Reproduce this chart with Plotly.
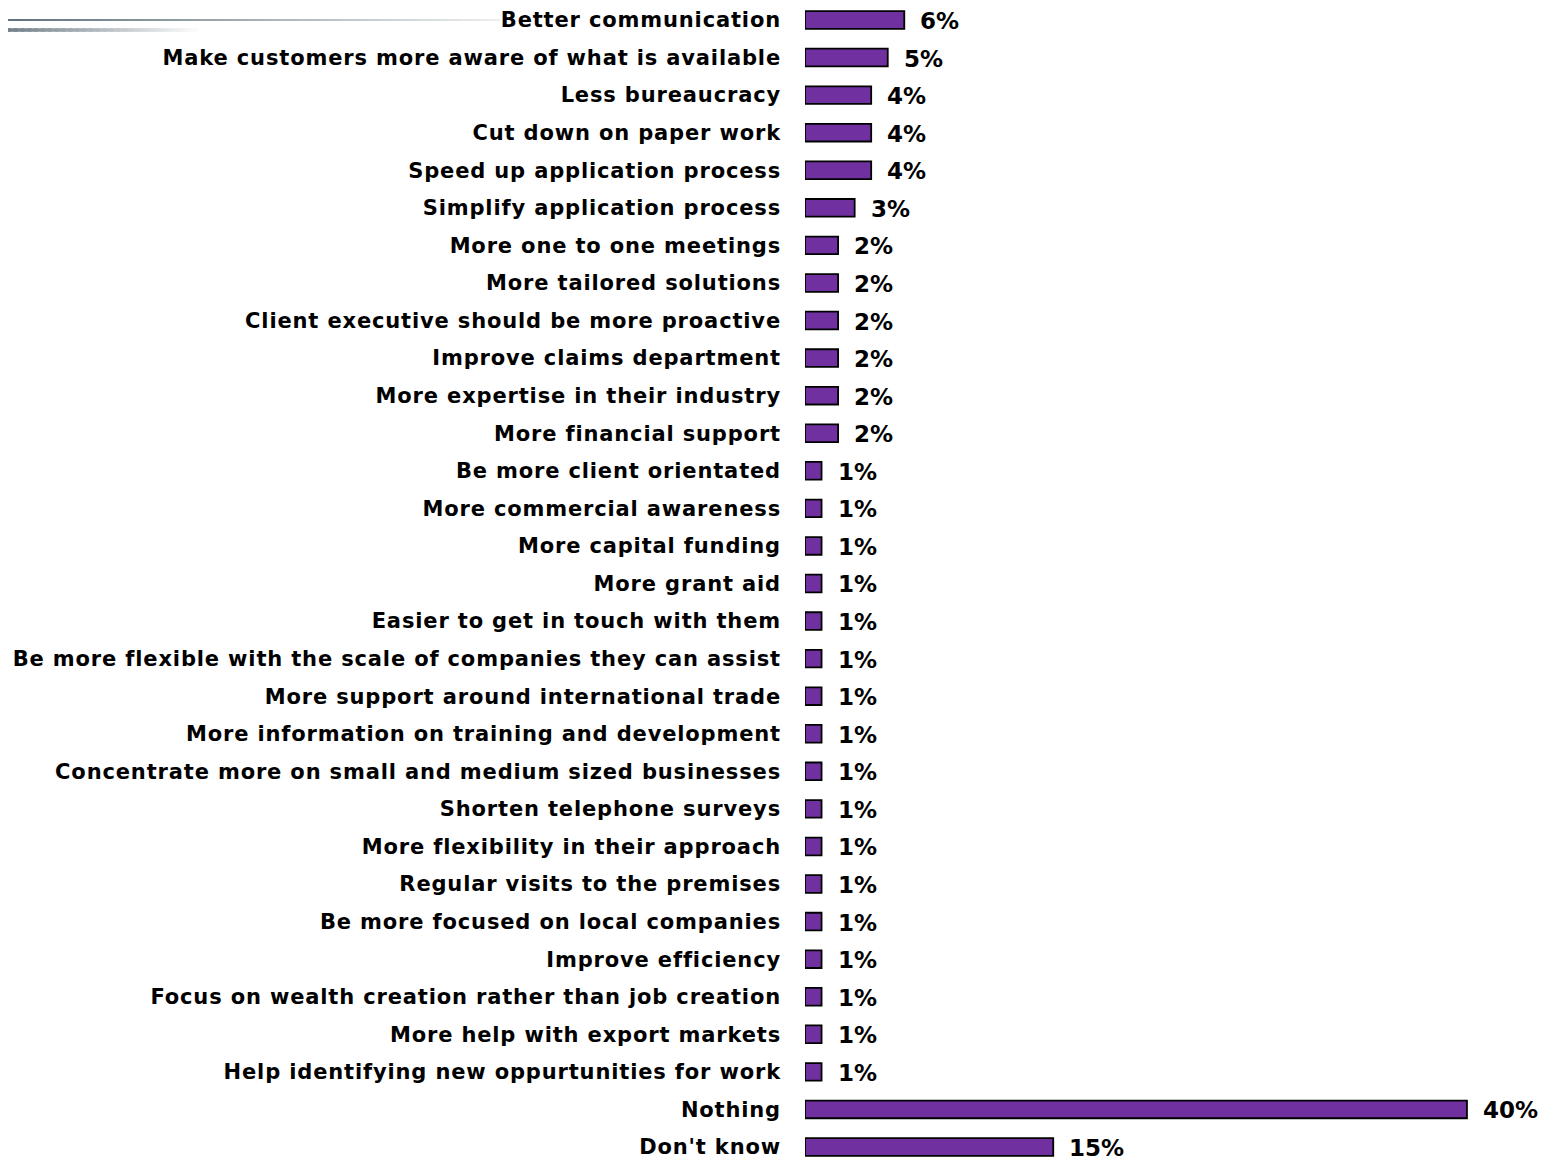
import plotly.graph_objects as go

categories = [
    "Better communication",
    "Make customers more aware of what is available",
    "Less bureaucracy",
    "Cut down on paper work",
    "Speed up application process",
    "Simplify application process",
    "More one to one meetings",
    "More tailored solutions",
    "Client executive should be more proactive",
    "Improve claims department",
    "More expertise in their industry",
    "More financial support",
    "Be more client orientated",
    "More commercial awareness",
    "More capital funding",
    "More grant aid",
    "Easier to get in touch with them",
    "Be more flexible with the scale of companies they can assist",
    "More support around international trade",
    "More information on training and development",
    "Concentrate more on small and medium sized businesses",
    "Shorten telephone surveys",
    "More flexibility in their approach",
    "Regular visits to the premises",
    "Be more focused on local companies",
    "Improve efficiency",
    "Focus on wealth creation rather than job creation",
    "More help with export markets",
    "Help identifying new oppurtunities for work",
    "Nothing",
    "Don't know",
]
values = [6, 5, 4, 4, 4, 3, 2, 2, 2, 2, 2, 2, 1, 1, 1, 1, 1, 1, 1, 1, 1, 1, 1, 1, 1, 1, 1, 1, 1, 40, 15]
value_labels = [f"{v}%" for v in values]

# bottom-to-top order for plotting
cats_plot = categories[::-1]
vals_plot = values[::-1]
labs_plot = value_labels[::-1]

FONT = "DejaVu Sans, Liberation Sans, Arial"

fig = go.Figure()
fig.add_trace(go.Bar(
    x=vals_plot, y=cats_plot, orientation="h",
    marker=dict(color="#7030A0", line=dict(color="#000000", width=1.8)),
    width=0.47,
    hoverinfo="skip",
))

for v, c, t in zip(vals_plot, cats_plot, labs_plot):
    fig.add_annotation(x=v, y=c, text=f"<b>{t}</b>", showarrow=False,
                       xanchor="left", yanchor="middle", xshift=14, yshift=-1,
                       font=dict(family=FONT, size=23, color="#000000"))

W = 1545.0
H = 1152.0
L = 797.0
pw = W - L


def px_x(p):
    return (p - L) / pw


def px_y(p):
    return 1 - p / H


# decorative gradient lines at top-left
def grad_line(x0, x1, y, width, n, start, end):
    for i in range(n):
        f = i / (n - 1)
        col = tuple(int(start[k] + (end[k] - start[k]) * f) for k in range(3))
        xa = x0 + (x1 - x0) * i / n
        xb = x0 + (x1 - x0) * (i + 1.6) / n
        fig.add_shape(type="line", xref="paper", yref="paper",
                      x0=xa, x1=min(xb, x1), y0=y, y1=y,
                      line=dict(color=f"rgb{col}", width=width), layer="below")


grad_line(px_x(-8), px_x(492), px_y(12), 2, 50, (95, 112, 122), (235, 238, 240))
grad_line(px_x(-8), px_x(197), px_y(22), 3.5, 30, (110, 125, 135), (255, 255, 255))

tick_text = [f'<span style="letter-spacing:0.85px">{c}</span>' for c in cats_plot]

fig.update_layout(
    width=int(W), height=int(H),
    margin=dict(l=int(L), r=0, t=0, b=0),
    plot_bgcolor="white", paper_bgcolor="white",
    showlegend=False,
    font=dict(family=FONT, color="#000000"),
)
fig.update_xaxes(range=[0, 45.2], visible=False, fixedrange=True)
fig.update_yaxes(range=[-0.346, 30.319], showgrid=False, showline=False, zeroline=False,
                 ticks="", ticklabelstandoff=23,
                 tickmode="array", tickvals=cats_plot, ticktext=tick_text,
                 tickfont=dict(family=FONT, size=21, color="#000000", weight="bold"),
                 categoryorder="array", categoryarray=cats_plot)

fig.write_html("out.html")
